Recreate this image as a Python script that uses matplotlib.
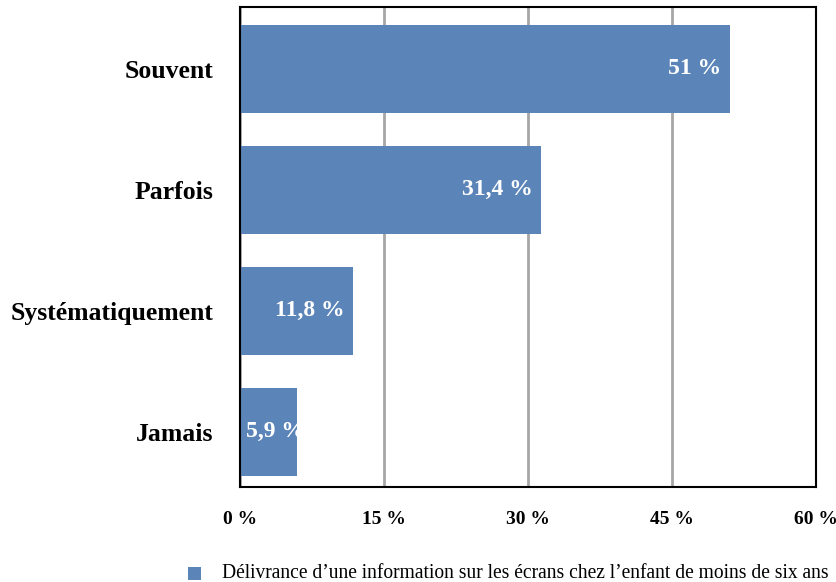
import matplotlib
matplotlib.use("Agg")
import matplotlib.pyplot as plt
from matplotlib.patches import Rectangle

categories = ["Souvent", "Parfois", "Systématiquement", "Jamais"]
values = [51.0, 31.4, 11.8, 5.9]
value_labels = ["51 %", "31,4 %", "11,8 %", "5,9 %"]
xticks = [0, 15, 30, 45, 60]
xtick_labels = ["0 %", "15 %", "30 %", "45 %", "60 %"]
legend_label = "Délivrance d\u2019une information sur les écrans chez l\u2019enfant de moins de six ans"

color = "#5b84b8"
plt.rcParams["font.family"] = ["Liberation Serif", "DejaVu Serif"]

fig = plt.figure(figsize=(8.37, 5.82), dpi=100)
ax = fig.add_axes([240/837, 1-487/582, (816-240)/837, (487-7)/582])

ypos = list(range(len(categories)))
ax.barh(ypos, values, height=0.72, color=color, zorder=3)
ax.set_ylim(3.455, -0.512)
ax.set_xlim(0, 60)
ax.set_xticks(xticks)
ax.set_xticklabels(xtick_labels, fontsize=14, fontweight="bold")
ax.set_yticks(ypos)
ax.set_yticklabels(categories, fontsize=18.5, fontweight="bold")
ax.tick_params(axis="x", length=0, pad=17)
ax.tick_params(axis="y", length=0, pad=19)
ax.grid(axis="x", color="#a6a6a6", linewidth=2, zorder=1)
for s in ax.spines.values():
    s.set_color("black")
    s.set_linewidth(1.5)
    s.set_zorder(4)

for y, v, lab in zip(ypos, values, value_labels):
    if v > 10:
        ax.annotate(lab, (v, y), xytext=(-6, 0), textcoords="offset points",
                    ha="right", va="center", color="white", fontsize=17,
                    fontweight="bold", zorder=5)
    else:
        ax.annotate(lab, (0, y), xytext=(4.3, 0), textcoords="offset points",
                    ha="left", va="center", color="white", fontsize=17,
                    fontweight="bold", zorder=5)

fig.patches.append(Rectangle((188/837, 1-580/582), 13/837, 13/582,
                             transform=fig.transFigure, facecolor=color,
                             edgecolor="none"))
fig.text(222/837, 1-574/582, legend_label, fontsize=14.05, va="center", ha="left")

fig.savefig("out.png", dpi=100)
